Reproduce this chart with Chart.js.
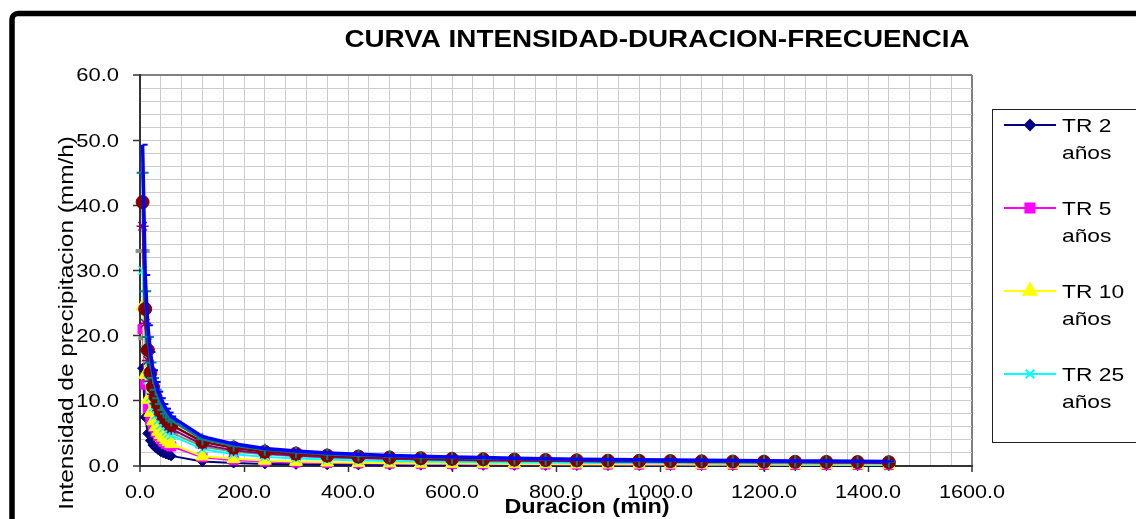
<!DOCTYPE html>
<html>
<head>
<meta charset="utf-8">
<script src="https://cdn.jsdelivr.net/npm/chart.js@4.4.0/dist/chart.umd.min.js"></script>
<style>
  html, body { margin: 0; padding: 0; background: #fff; }
  #wrap { position: relative; width: 1136px; height: 519px; overflow: hidden; }
</style>
</head>
<body>
<div id="wrap"><canvas id="idf" width="1136" height="519"></canvas></div>
<script>
// duraciones (min)
const durations = [5, 10, 15, 20, 25, 30, 35, 40, 45, 50, 55, 60, 120, 180, 240, 300, 360, 420, 480, 540, 600,
  660, 720, 780, 840, 900, 960, 1020, 1080, 1140, 1200, 1260, 1320, 1380, 1440];

// intensidades (mm/h)
const tr2 = [15.0, 7.5, 5.0, 3.9, 3.2, 2.8, 2.5, 2.2, 2.0, 1.85, 1.7, 1.55, 0.7, 0.45, 0.32, 0.25, 0.2, 0.17, 0.15,
  0.13, 0.12, 0.11, 0.10, 0.09, 0.085, 0.08, 0.075, 0.07, 0.066, 0.062, 0.06, 0.057, 0.055, 0.052, 0.05];
const tr5 = [21.0, 12.5, 8.9, 7.2, 6.0, 5.2, 4.6, 4.1, 3.7, 3.4, 3.2, 3.0, 1.35, 0.9, 0.7, 0.55, 0.47, 0.41, 0.37,
  0.33, 0.30, 0.28, 0.26, 0.24, 0.23, 0.22, 0.21, 0.20, 0.19, 0.18, 0.17, 0.165, 0.16, 0.155, 0.15];
const tr10 = [24.5, 14.0, 10.2, 8.2, 6.9, 6.0, 5.3, 4.8, 4.4, 4.0, 3.7, 3.4, 1.5, 1.1, 0.85, 0.68, 0.57, 0.5, 0.44,
  0.4, 0.37, 0.34, 0.32, 0.30, 0.28, 0.27, 0.26, 0.25, 0.24, 0.23, 0.22, 0.21, 0.20, 0.195, 0.19];
const tr25 = [30.0, 17.9, 13.2, 10.6, 9.0, 7.8, 7.0, 6.3, 5.8, 5.3, 5.0, 4.7, 2.6, 1.8, 1.4, 1.15, 0.98, 0.86, 0.77,
  0.7, 0.64, 0.59, 0.55, 0.52, 0.49, 0.46, 0.44, 0.42, 0.40, 0.38, 0.37, 0.35, 0.34, 0.33, 0.32];
const tr50 = [36.8, 21.9, 16.2, 13.0, 11.0, 9.6, 8.5, 7.7, 7.1, 6.6, 6.1, 5.7, 3.3, 2.4, 1.9, 1.6, 1.4, 1.22, 1.1,
  1.0, 0.92, 0.86, 0.8, 0.75, 0.71, 0.67, 0.64, 0.61, 0.58, 0.56, 0.54, 0.52, 0.5, 0.48, 0.47];
const tr100 = [40.5, 24.1, 17.8, 14.3, 12.1, 10.6, 9.4, 8.5, 7.8, 7.2, 6.7, 6.3, 3.7, 2.8, 2.2, 1.9, 1.6, 1.45, 1.3,
  1.2, 1.1, 1.04, 0.98, 0.92, 0.87, 0.82, 0.79, 0.75, 0.72, 0.69, 0.66, 0.64, 0.62, 0.6, 0.58];
const tr200 = [45.0, 26.8, 19.8, 15.9, 13.5, 11.7, 10.4, 9.5, 8.6, 8.0, 7.5, 7.0, 4.1, 3.1, 2.5, 2.1, 1.8, 1.6, 1.5,
  1.35, 1.25, 1.15, 1.1, 1.0, 0.96, 0.91, 0.87, 0.83, 0.8, 0.77, 0.74, 0.71, 0.69, 0.67, 0.64];
const tr500 = [49.3, 29.3, 21.6, 17.5, 14.7, 12.9, 11.4, 10.4, 9.5, 8.8, 8.2, 7.6, 4.5, 3.4, 2.7, 2.3, 2.0, 1.8, 1.6,
  1.5, 1.4, 1.3, 1.2, 1.1, 1.05, 1.0, 0.96, 0.91, 0.87, 0.84, 0.81, 0.78, 0.75, 0.73, 0.7];
const tr1000 = [33.0, 19.6, 14.5, 11.7, 9.9, 8.6, 7.7, 6.9, 6.3, 5.9, 5.5, 5.1, 3.0, 2.2, 1.8, 1.5, 1.3, 1.2, 1.1,
  0.98, 0.91, 0.85, 0.8, 0.75, 0.71, 0.67, 0.64, 0.61, 0.58, 0.56, 0.54, 0.52, 0.5, 0.49, 0.47];

const seriesNames = ['TR 2 años', 'TR 5 años', 'TR 10 años', 'TR 25 años', 'TR 50 años',
  'TR 100 años', 'TR 200 años', 'TR 500 años', 'TR 1000 años'];
const series = [tr2, tr5, tr10, tr25, tr50, tr100, tr200, tr500, tr1000];

const xMajorTicks = [0, 200, 400, 600, 800, 1000, 1200, 1400, 1600];
const yMajorTicks = [0, 10, 20, 30, 40, 50, 60];

const chartTitle = 'CURVA INTENSIDAD-DURACION-FRECUENCIA';
const xTitle = 'Duracion (min)';
const yTitle = 'Intensidad de precipitacion (mm/h)';

// estilos tipo Excel
const styles = [
  { color: '#000080', shape: 'rectRot', r: 5, line: 2, pw: 1 },
  { color: '#FF00FF', shape: 'rect', r: 6.5, line: 2, pw: 1 },
  { color: '#FFFF00', shape: 'triangle', r: 7.5, line: 2, pw: 1 },
  { color: '#00FFFF', shape: 'crossRot', r: 6, line: 2, pw: 1.5 },
  { color: '#800080', shape: 'star', r: 6, line: 2, pw: 1.5 },
  { color: '#800000', shape: 'circle', r: 6.5, line: 2.5, pw: 1 },
  { color: '#008080', shape: 'cross', r: 6, line: 2.5, pw: 2 },
  { color: '#0000FF', shape: 'dash', r: 5, line: 3.5, pw: 2 },
  { color: '#7f9a7f', shape: 'line', r: 7, line: 2, pw: 4 }
];
// la serie gris queda detras del resto
const drawOrder = [8, 7, 6, 5, 4, 3, 2, 1, 10];

const FONT = '"Liberation Sans", Arial, sans-serif';

function stretchText(ctx, text, x, y, font, align, baseline, sx) {
  ctx.save();
  ctx.translate(x, y);
  ctx.scale(sx, 1);
  ctx.font = font;
  ctx.textAlign = align;
  ctx.textBaseline = baseline;
  ctx.fillStyle = '#000';
  ctx.fillText(text, 0, 0);
  ctx.restore();
}

const decoPlugin = {
  id: 'deco',
  afterDraw(chart) {
    const ctx = chart.ctx;
    const xs = chart.scales.x;
    const ys = chart.scales.y;

    // etiquetas de los ejes
    xMajorTicks.forEach(v => {
      stretchText(ctx, v.toFixed(1), xs.getPixelForValue(v), 493, '18px ' + FONT, 'center', 'middle', 1.2);
    });
    yMajorTicks.forEach(v => {
      stretchText(ctx, v.toFixed(1), 119, ys.getPixelForValue(v) + 1.5, '18px ' + FONT, 'right', 'middle', 1.22);
    });

    // titulos
    stretchText(ctx, chartTitle, 657, 41, 'bold 23px ' + FONT, 'center', 'middle', 1.21);
    stretchText(ctx, xTitle, 587, 513, 'bold 20px ' + FONT, 'center', 'alphabetic', 1.17);
    ctx.save();
    ctx.translate(73, 323);
    ctx.rotate(-Math.PI / 2);
    ctx.scale(1.16, 1);
    ctx.font = '21px ' + FONT;
    ctx.textAlign = 'center';
    ctx.textBaseline = 'alphabetic';
    ctx.fillStyle = '#000';
    ctx.fillText(yTitle, 0, 0);
    ctx.restore();

    // leyenda (solo caben las 4 primeras series)
    ctx.save();
    ctx.strokeStyle = '#222';
    ctx.lineWidth = 1;
    ctx.strokeRect(992.5, 109.5, 200, 333);
    for (let i = 0; i < 4; i++) {
      const y = 125 + i * 83;
      const st = styles[i];
      ctx.strokeStyle = st.color;
      ctx.fillStyle = st.color;
      ctx.lineWidth = 2;
      ctx.beginPath();
      ctx.moveTo(1004, y);
      ctx.lineTo(1056, y);
      ctx.stroke();
      Chart.helpers.drawPoint(ctx, { pointStyle: st.shape, radius: st.r, borderWidth: st.pw, rotation: 0 }, 1030, y);
      const parts = seriesNames[i].split(' ');
      stretchText(ctx, parts[0] + ' ' + parts[1], 1062, y + 7, '19px ' + FONT, 'left', 'alphabetic', 1.2);
      stretchText(ctx, parts[2], 1062, y + 34, '19px ' + FONT, 'left', 'alphabetic', 1.2);
    }
    ctx.restore();

    // marco exterior
    ctx.save();
    ctx.strokeStyle = '#000';
    ctx.lineWidth = 5.5;
    ctx.beginPath();
    ctx.roundRect(12, 13.5, 1200, 600, 6);
    ctx.stroke();
    ctx.restore();
  }
};

const datasets = series.map((s, i) => ({
  label: seriesNames[i],
  data: durations.map((d, k) => ({ x: d, y: s[k] })),
  borderColor: styles[i].color,
  backgroundColor: styles[i].color,
  borderWidth: styles[i].line,
  pointStyle: styles[i].shape,
  pointRadius: styles[i].r,
  pointBorderWidth: styles[i].pw,
  pointBackgroundColor: styles[i].color,
  pointBorderColor: styles[i].color,
  tension: 0,
  order: drawOrder[i],
  clip: false
}));

function isMajor(list, v) {
  return list.indexOf(v) !== -1;
}

new Chart(document.getElementById('idf'), {
  type: 'line',
  data: { datasets: datasets },
  options: {
    responsive: false,
    animation: false,
    layout: { padding: { left: 0, top: 75, right: 164, bottom: 0 } },
    plugins: {
      legend: { display: false },
      tooltip: { enabled: false },
      title: { display: false }
    },
    scales: {
      x: {
        type: 'linear',
        min: 0,
        max: 1600,
        ticks: { stepSize: 40, display: false, autoSkip: false, maxTicksLimit: 100 },
        grid: {
          color: c => c.tick.value === 1600 ? '#808080' : (c.tick.value === 0 ? '#333' : '#cccccc'),
          lineWidth: c => (c.tick.value === 1600 || c.tick.value === 0) ? 2 : 1,
          tickLength: 6,
          tickColor: c => isMajor(xMajorTicks, c.tick.value) ? '#333' : 'rgba(0,0,0,0)',
          tickWidth: 1.5
        },
        border: { color: '#333', width: 2 },
        afterFit: s => { s.height = 53; }
      },
      y: {
        type: 'linear',
        min: 0,
        max: 60,
        ticks: { stepSize: 2, display: false, autoSkip: false, maxTicksLimit: 100 },
        grid: {
          color: c => c.tick.value === 60 ? '#808080' : (c.tick.value === 0 ? '#333' : '#cccccc'),
          lineWidth: c => (c.tick.value === 60 || c.tick.value === 0) ? 2 : 1,
          tickLength: 7,
          tickColor: c => isMajor(yMajorTicks, c.tick.value) ? '#333' : 'rgba(0,0,0,0)',
          tickWidth: 1.5
        },
        border: { color: '#333', width: 2 },
        afterFit: s => { s.height; s.width = 140; }
      }
    }
  },
  plugins: [decoPlugin]
});
</script>
</body>
</html>
